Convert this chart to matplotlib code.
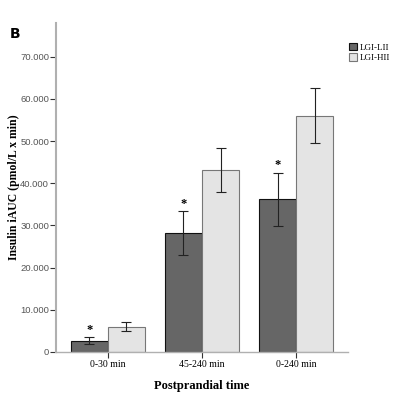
import matplotlib
matplotlib.use("Agg")
import matplotlib.pyplot as plt
import numpy as np

groups = ["0-30 min", "45-240 min", "0-240 min"]
lii_mean = [2700, 28200, 36200]
lii_err = [800, 5100, 6300]
hii_mean = [6000, 43100, 56000]
hii_err = [1000, 5200, 6500]
series_names = ["LGI-LII", "LGI-HII"]
yticks = [0, 10000, 20000, 30000, 40000, 50000, 60000, 70000]
ytick_labels = ["0", "10.000", "20.000", "30.000", "40.000", "50.000", "60.000", "70.000"]

fig = plt.figure(figsize=(4, 3.95), dpi=100)
ax = fig.add_axes([0.14, 0.109, 0.73, 0.833])

x = np.arange(len(groups))
w = 0.395
err_kw = dict(ecolor="#222222", elinewidth=0.8, capsize=3.5, capthick=0.8)
b1 = ax.bar(x - w / 2, lii_mean, w, yerr=lii_err, color="#666666",
            edgecolor="#111111", linewidth=0.8, error_kw=err_kw, label=series_names[0])
b2 = ax.bar(x + w / 2, hii_mean, w, yerr=hii_err, color="#e4e4e4",
            edgecolor="#777777", linewidth=0.8, error_kw=err_kw, label=series_names[1])

# significance stars above the LII bars
for xi, m, e in zip(x - w / 2, lii_mean, lii_err):
    ax.text(xi, m + e + 1700, "*", ha="center", va="center", fontsize=9,
            fontweight="bold", family="Liberation Serif")

ax.set_xlim(-0.55, 2.55)
ax.set_ylim(0, 78000)
ax.set_yticks(yticks)
ax.set_yticklabels(ytick_labels, fontsize=6.8, color="#555555", family="Liberation Sans")
ax.set_xticks(x)
ax.set_xticklabels(groups, fontsize=7, family="Liberation Serif")
ax.tick_params(axis="y", length=4, width=0.8, color="#333333", pad=1)
ax.tick_params(axis="x", length=4, width=0.8, color="#333333", pad=2)

for s in ["top", "right"]:
    ax.spines[s].set_visible(False)
ax.spines["left"].set_color("#b0b0b0")
ax.spines["left"].set_linewidth(1.5)
ax.spines["bottom"].set_color("#b0b0b0")
ax.spines["bottom"].set_linewidth(1.0)

ax.set_ylabel("Insulin iAUC (pmol/L x min)", fontsize=8.5, fontweight="bold",
              family="Liberation Serif")
ax.yaxis.set_label_coords(-0.125, 0.5)
ax.set_xlabel("Postprandial time", fontsize=9, fontweight="bold",
              family="Liberation Serif", labelpad=8)

leg = ax.legend(loc="upper left", bbox_to_anchor=(0.99, 0.95), frameon=False,
                prop={"family": "Liberation Serif", "size": 6.5},
                handlelength=0.9, handleheight=0.9, handletextpad=0.3,
                labelspacing=0.15, borderaxespad=0)

fig.text(0.025, 0.905, "B", fontsize=10, fontweight="bold", family="DejaVu Sans")

fig.savefig("out.png", dpi=100)
